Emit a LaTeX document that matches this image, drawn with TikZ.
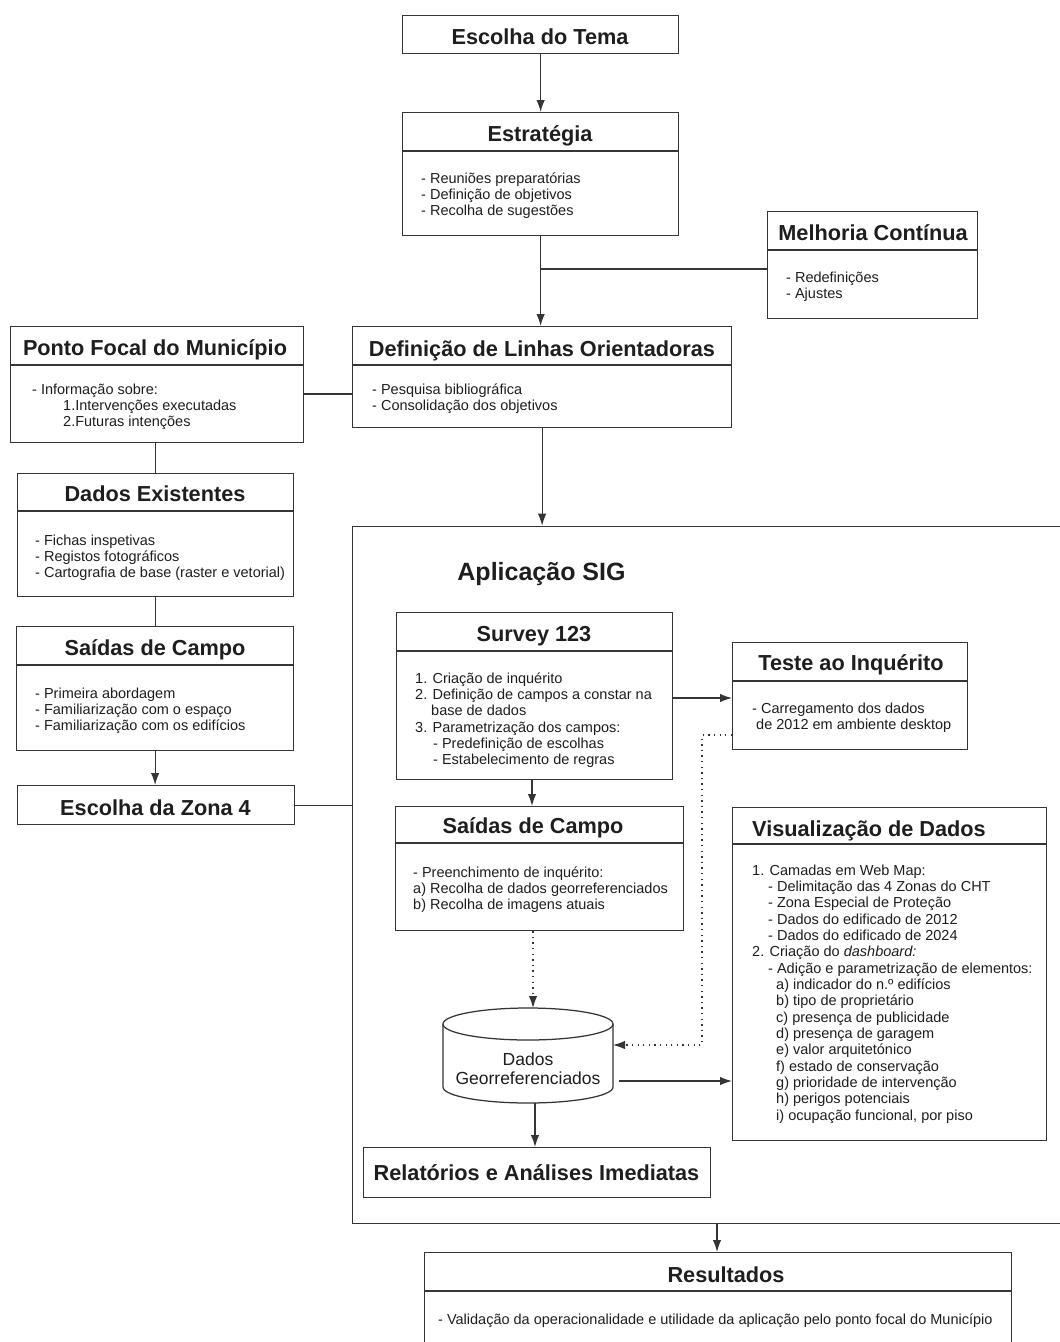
\documentclass[tikz,border=0pt]{standalone}
\usepackage{fontspec}
\setmainfont{Liberation Sans}
\usetikzlibrary{arrows.meta}
\definecolor{linec}{HTML}{353535}
\definecolor{textc}{HTML}{1E1E1E}
\newcommand\ttlfont{\bfseries\fontsize{21.7}{24}\selectfont}
\newcommand\bdyfont{\fontsize{14.5}{16.35}\selectfont}
\newcommand\cylfont{\fontsize{17.5}{19}\selectfont}
\newcommand\bigttlfont{\bfseries\fontsize{25}{28}\selectfont}
\newcommand\lns[1]{\begin{tabular}[t]{@{}l@{}}#1\end{tabular}}
\newcommand\clns[1]{\begin{tabular}[t]{@{}c@{}}#1\end{tabular}}
\tikzset{
  frame/.style={draw=linec, line width=1.25pt, rectangle, inner sep=0pt, anchor=north west},
  ttl/.style={font=\ttlfont, text=textc, anchor=base, inner sep=0pt},
  bdy/.style={font=\bdyfont, text=textc, anchor=base west, inner sep=0pt},
  conn/.style={draw=linec, line width=1.25pt},
  tip/.style={-{Latex[length=12pt,width=8.5pt]}},
  arr/.style={conn, tip},
  dotline/.style={conn, dash pattern=on 1.3pt off 4.3pt},
}
\begin{document}
\begin{tikzpicture}[x=1pt,y=-1pt]
\useasboundingbox (0,0) rectangle (1060,1342);
\clip (0,0) rectangle (1060,1342);
\fill[white] (0,0) rectangle (1060,1342);

% ---------- boxes ----------
\node[frame, minimum width=276pt, minimum height=38pt] (tema) at (402,15) {};
\node[ttl] (tematitle) at (540,44) {Escolha do Tema};

\node[frame, minimum width=276pt, minimum height=123pt] (estr) at (402,112) {};
\draw[conn] (402,151) -- (678,151);
\node[ttl] (estrtitle) at (540,141) {Estratégia};
\node[bdy] (estrbody) at (421,183) {\lns{- Reuniões preparatórias\\- Definição de objetivos\\- Recolha de sugestões}};

\node[frame, minimum width=210pt, minimum height=107pt] (melh) at (767,211) {};
\draw[conn] (767,250) -- (977,250);
\node[ttl] (melhtitle) at (873,240) {Melhoria Contínua};
\node[bdy] (melhbody) at (786,282) {\lns{- Redefinições\\- Ajustes}};

\node[frame, minimum width=379pt, minimum height=101pt] (defi) at (352,326) {};
\draw[conn] (352,365) -- (731,365);
\node[ttl] (defititle) at (542,356) {Definição de Linhas Orientadoras};
\node[bdy] (defibody) at (372,394) {\lns{- Pesquisa bibliográfica\\- Consolidação dos objetivos}};

\node[frame, minimum width=293pt, minimum height=116pt] (ponto) at (10,326) {};
\draw[conn] (10,365) -- (303,365);
\node[ttl] (pontotitle) at (155,355) {Ponto Focal do Município};
\node[bdy] (pontobody) at (32,394) {\lns{- Informação sobre:\\\hspace*{31pt}1.Intervenções executadas\\\hspace*{31pt}2.Futuras intenções}};

\node[frame, minimum width=276pt, minimum height=123pt] (dados) at (17,473) {};
\draw[conn] (17,511) -- (293,511);
\node[ttl] (dadostitle) at (155,501) {Dados Existentes};
\node[bdy] (dadosbody) at (35,545) {\lns{- Fichas inspetivas\\- Registos fotográficos\\- Cartografia de base (raster e vetorial)}};

\node[frame, minimum width=277pt, minimum height=124pt] (saida) at (16,626) {};
\draw[conn] (16,665) -- (293,665);
\node[ttl] (saidatitle) at (155,655) {Saídas de Campo};
\node[bdy] (saidabody) at (35,698) {\lns{- Primeira abordagem\\- Familiarização com o espaço\\- Familiarização com os edifícios}};

\node[frame, minimum width=277pt, minimum height=39pt] (zona) at (17,785) {};
\node[ttl] (zonatitle) at (155.5,815) {Escolha da Zona 4};

% ---------- container ----------
\node[frame, minimum width=730pt, minimum height=697.3pt] (sig) at (352,525.7) {};
\node[font=\bigttlfont, text=textc, anchor=base, inner sep=0pt] (sigtitle) at (541.5,580) {Aplicação SIG};

\node[frame, minimum width=276pt, minimum height=167pt] (survey) at (396,612) {};
\draw[conn] (396,651) -- (672,651);
\node[ttl] (surveytitle) at (534,641) {Survey 123};
\node[bdy] (surveybody) at (415,683) {\lns{1. Criação de inquérito\\2. Definição de campos a constar na\\\hspace*{16pt}base de dados\\3. Parametrização dos campos:\\\hspace*{18pt}- Predefinição de escolhas\\\hspace*{18pt}- Estabelecimento de regras}};

\node[frame, minimum width=235pt, minimum height=107pt] (teste) at (732,642) {};
\draw[conn] (732,681) -- (967,681);
\node[ttl] (testetitle) at (851,670) {Teste ao Inquérito};
\node[bdy] (testebody) at (752,713) {\lns{- Carregamento dos dados\\\hspace*{4pt}de 2012 em ambiente desktop}};

\node[frame, minimum width=288pt, minimum height=124pt] (said2) at (395,806) {};
\draw[conn] (395,843) -- (683,843);
\node[ttl] (said2title) at (533,833) {Saídas de Campo};
\node[bdy] (said2body) at (413,877) {\lns{- Preenchimento de inquérito:\\a) Recolha de dados georreferenciados\\b) Recolha de imagens atuais}};

\node[frame, minimum width=314pt, minimum height=333pt] (visu) at (732,807) {};
\draw[conn] (732,844) -- (1046,844);
\node[ttl, anchor=base west] (visutitle) at (752,836) {Visualização de Dados};
\node[bdy] (visubody) at (752,875) {\lns{1. Camadas em Web Map:\\
\hspace*{16pt}- Delimitação das 4 Zonas do CHT\\
\hspace*{16pt}- Zona Especial de Proteção\\
\hspace*{16pt}- Dados do edificado de 2012\\
\hspace*{16pt}- Dados do edificado de 2024\\
2. Criação do \textit{dashboard:}\\
\hspace*{16pt}- Adição e parametrização de elementos:\\
\hspace*{24pt}a) indicador do n.º edifícios\\
\hspace*{24pt}b) tipo de proprietário\\
\hspace*{24pt}c) presença de publicidade\\
\hspace*{24pt}d) presença de garagem\\
\hspace*{24pt}e) valor arquitetónico\\
\hspace*{24pt}f) estado de conservação\\
\hspace*{24pt}g) prioridade de intervenção\\
\hspace*{24pt}h) perigos potenciais\\
\hspace*{24pt}i) ocupação funcional, por piso}};

% cylinder
\draw[conn, fill=white] (443,1024) -- (443,1087)
  arc[start angle=180, end angle=360, x radius=85pt, y radius=16pt]
  -- (613,1024)
  arc[start angle=0, end angle=180, x radius=85pt, y radius=16pt] -- cycle;
\draw[conn] (443,1024) arc[start angle=180, end angle=360, x radius=85pt, y radius=16pt];
\node[inner sep=0pt, minimum width=170pt, minimum height=95pt] (cyl) at (528,1055.5) {};
\node[font=\cylfont, text=textc, anchor=base, inner sep=0pt] (cyltext) at (528,1065) {\clns{Dados\\Georreferenciados}};

\node[frame, minimum width=347pt, minimum height=50pt] (rel) at (363,1147) {};
\node[ttl] (reltitle) at (536.5,1180) {Relatórios e Análises Imediatas};

% results
\node[frame, minimum width=587pt, minimum height=120pt] (result) at (424,1252) {};
\draw[conn] (424,1291) -- (1011,1291);
\node[ttl] (resulttitle) at (726,1282) {Resultados};
\node[bdy] (resultbody) at (438,1324) {\lns{- Validação da operacionalidade e utilidade da aplicação pelo ponto focal do Município}};

% ---------- connectors ----------
\coordinate (jm) at (540,269);
\coordinate (ypf) at (0,394);
\coordinate (yz) at (0,805.5);
\coordinate (ys) at (0,698);
\coordinate (xs) at (532,0);
\coordinate (xd) at (533,0);
\coordinate (yt) at (0,735);
\coordinate (xt) at (702,0);
\coordinate (xr) at (717,0);
\coordinate (cylN) at (533,1008);
\coordinate (cylE) at (613,1045);
\coordinate (cylE2) at (619,1081);
\coordinate (cylS) at (535,1103);

\draw[arr] (tema.south) -- (estr.north);
\draw[arr] (estr.south) -- (estr.south |- defi.north);
\draw[conn] (melh.west |- jm) -- (jm);
\draw[conn] (ponto.east |- ypf) -- (defi.west |- ypf);
\draw[conn] (dados.north |- ponto.south) -- (dados.north);
\draw[conn] (dados.south) -- (dados.south |- saida.north);
\draw[arr] (saida.south) -- (saida.south |- zona.north);
\draw[conn] (zona.east |- yz) -- (sig.west |- yz);
\draw[arr] (defi.south) -- (defi.south |- sig.north);
\draw[arr] (survey.east |- ys) -- (teste.west |- ys);
\draw[arr] (survey.south -| xs) -- (said2.north -| xs);
\draw[dotline, tip] (said2.south -| xd) -- (cylN);
\draw[dotline, tip] (teste.west |- yt) -| (xt |- cylE) -- (cylE);
\draw[arr] (cylE2) -- (visu.west |- cylE2);
\draw[arr] (cylS) -- (cylS |- rel.north);
\draw[arr] (sig.south -| xr) -- (result.north -| xr);
\end{tikzpicture}
\end{document}
